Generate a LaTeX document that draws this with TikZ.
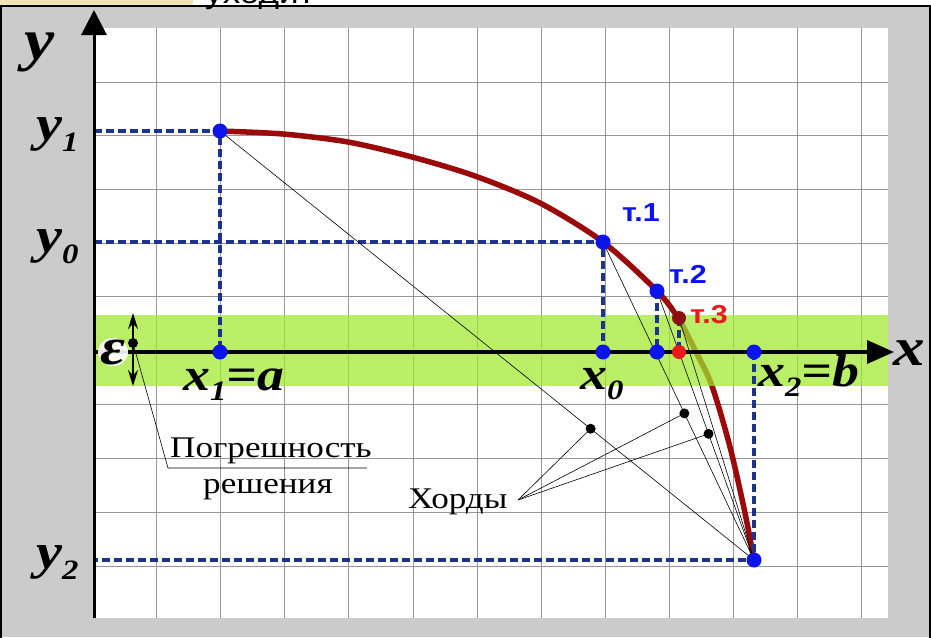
\documentclass[tikz,border=0pt]{standalone}
\usepackage{fontspec}
\setmainfont{Liberation Serif}[FakeStretch=1.17]
\newfontfamily\arialf{Liberation Sans}[FakeStretch=1.17]
\usetikzlibrary{arrows.meta,calc}
\definecolor{bggray}{RGB}{203,203,203}
\definecolor{beige}{RGB}{242,226,184}
\definecolor{gridgray}{RGB}{150,150,150}
\definecolor{navy}{RGB}{28,52,140}
\definecolor{dotblue}{RGB}{10,20,235}
\definecolor{curvered}{RGB}{155,10,10}
\definecolor{bandgreen}{RGB}{160,232,45}
\definecolor{tred}{RGB}{235,25,25}
\definecolor{t3dot}{RGB}{140,15,15}
\newcommand{\biglab}{\fontsize{46}{46}\selectfont\bfseries\itshape}
\newcommand{\ylabfont}{\fontsize{50}{50}\selectfont\bfseries\itshape}
\newcommand{\mysub}[1]{\raisebox{-0.22em}{\fontsize{28}{28}\selectfont\bfseries\itshape #1}}
\tikzset{
  gridline/.style={draw=gridgray, line width=0.9pt},
  dashline/.style={draw=navy, line width=3.6pt, dash pattern=on 8pt off 4pt},
  curvestyle/.style={draw=curvered, line width=5.5pt, line cap=round},
  chord/.style={draw=black, line width=0.6pt},
  leader/.style={draw=black, line width=0.6pt},
  axisline/.style={draw=black, line width=3.5pt},
  bluedot/.style={circle, fill=dotblue, inner sep=0pt, minimum size=15pt},
  blackdot/.style={circle, fill=black, inner sep=0pt, minimum size=10pt},
  lab/.style={anchor=base west, inner sep=0pt, font=\biglab},
  ylab/.style={anchor=base west, inner sep=0pt, font=\ylabfont},
  tlab/.style={anchor=base west, inner sep=0pt, font=\arialf\bfseries\fontsize{26}{26}\selectfont},
  rtext/.style={anchor=base west, inner sep=0pt, font=\fontsize{30}{30}\selectfont},
}
\begin{document}
\begin{tikzpicture}[x=1pt,y=-1pt]
\clip (0,0) rectangle (931,637);
% background
\fill[bggray] (0,0) rectangle (931,637);
\fill[beige] (0,0) rectangle (193,6);
\fill[white] (193,0) rectangle (931,6);
\node[anchor=base west, inner sep=0pt, font=\arialf\fontsize{30}{30}\selectfont] (topfrag) at (205,3) {уходит};
\fill[white] (94,28) rectangle (888,618);
% grid
\foreach \gx in {156,220,284,348,413,477,541,605,669,733,797,861}
  \draw[gridline] (\gx,28) -- (\gx,618);
\foreach \gy in {82,135,189,243,296,350,404,458,512,566}
  \draw[gridline] (94,\gy) -- (888,\gy);
% key points
\coordinate (P1) at (220,131);
\coordinate (X1) at (220,352);
\coordinate (P0) at (603,242);
\coordinate (X0) at (603,352);
\coordinate (P2) at (657,291);
\coordinate (X2p) at (657,352);
\coordinate (P3) at (679,318);
\coordinate (X3) at (679,352);
\coordinate (XB) at (754,352);
\coordinate (B) at (754,560);
\coordinate (Y1) at (94,131);
\coordinate (Y0) at (94,242);
\coordinate (Y2) at (94,560);
% curve
\draw[curvestyle] plot[smooth, tension=0.5] coordinates {(220,131) (283,134) (348,142) (412,157) (475,176) (540,203) (603,242) (657,291) (678,318) (696,352) (712,386) (730,447) (745,513) (754,560)};
% green band
\fill[bandgreen, opacity=0.72] (94,315) rectangle (888,386);
% dashed projections
\draw[dashline] (Y1) -- (P1) -- (X1);
\draw[dashline] (Y0) -- (P0) -- (X0);
\draw[dashline] (P2) -- (X2p);
\draw[dashline] (P3) -- (X3);
\draw[dashline] (XB) -- (B) -- (Y2);
% chords
\draw[chord] (P1) -- (B);
\draw[chord] (P0) -- (B);
\draw[chord] (P2) -- (B);
\draw[chord] (P3) -- (B);
% axes
\coordinate (O) at (94,352);
\coordinate (XE) at (894,352);
\coordinate (YB) at (94,618);
\coordinate (YE) at (94,10);
\draw[axisline, -{Triangle[length=27pt,width=23pt]}] (O) -- (XE);
\draw[line width=3pt, -{Triangle[length=25pt,width=25pt]}] (YB) -- (YE);
% epsilon marker
\coordinate (EpsT) at (133,313);
\coordinate (EpsB) at (133,386);
\coordinate (EpsD) at (133,343);
\coordinate (L1) at (168,468);
\coordinate (L2) at (367,468);
\fill[white, opacity=0.9] (113,352) ellipse [x radius=15, y radius=14];
\draw[line width=1.4pt, {Stealth[length=16pt,width=10pt]}-{Stealth[length=16pt,width=10pt]}] (EpsT) -- (EpsB);
\draw[leader] (EpsD) -- (L1) -- (L2);
\node[blackdot] (epsdot) at (EpsD) {};
\node[anchor=base west, inner sep=0pt, font=\fontsize{52}{52}\selectfont\bfseries\itshape] (eps) at (100,364) {ε};
% chord markers and leaders
\coordinate (C1) at ($(P1)!0.694!(B)$);
\coordinate (C2) at ($(P0)!0.539!(B)$);
\coordinate (C3) at ($(P2)!0.531!(B)$);
\coordinate (HL) at (518,500);
\draw[leader] (HL) -- (C1);
\draw[leader] (HL) -- (C2);
\draw[leader] (HL) -- (C3);
\node[blackdot] (d1) at (C1) {};
\node[blackdot] (d2) at (C2) {};
\node[blackdot] (d3) at (C3) {};
% dots
\node[bluedot] (p1) at (P1) {};
\node[bluedot] (x1) at (X1) {};
\node[bluedot] (p0) at (P0) {};
\node[bluedot] (x0) at (X0) {};
\node[bluedot] (p2) at (P2) {};
\node[bluedot] (x2p) at (X2p) {};
\node[bluedot] (xb) at (XB) {};
\node[bluedot] (b) at (B) {};
\node[circle, fill=t3dot, inner sep=0pt, minimum size=14pt] (p3) at (P3) {};
\node[circle, fill=tred, inner sep=0pt, minimum size=14pt] (x3) at (X3) {};
% labels
\node[anchor=base west, inner sep=0pt, font=\fontsize{58}{58}\selectfont\bfseries\itshape] (ylabel) at (24,59) {y};
\node[ylab] (y1lab) at (36,140) {y\mysub{1}};
\node[ylab] (y0lab) at (36,252) {y\mysub{0}};
\node[ylab] (y2lab) at (36,568) {y\mysub{2}};
\node[anchor=base west, inner sep=0pt, font=\fontsize{54}{54}\selectfont\bfseries\itshape] (xlabel) at (893,365) {x};
\node[lab] (x1lab) at (183,390) {x\mysub{1}=a};
\node[lab] (x0lab) at (580,389) {x\mysub{0}};
\node[lab] (x2lab) at (758,386) {x\mysub{2}=b};
\node[tlab, text=dotblue] (t1) at (622,221) {т.1};
\node[tlab, text=dotblue] (t2) at (669,283) {т.2};
\node[tlab, text=tred] (t3) at (690,323) {т.3};
\node[rtext] (err1) at (170,457) {Погрешность};
\node[rtext] (err2) at (203,493) {решения};
\node[rtext] (chords) at (408,508) {Хорды};
% frame
\draw[line width=2pt] (1,6) rectangle (930,660);
\end{tikzpicture}
\end{document}
